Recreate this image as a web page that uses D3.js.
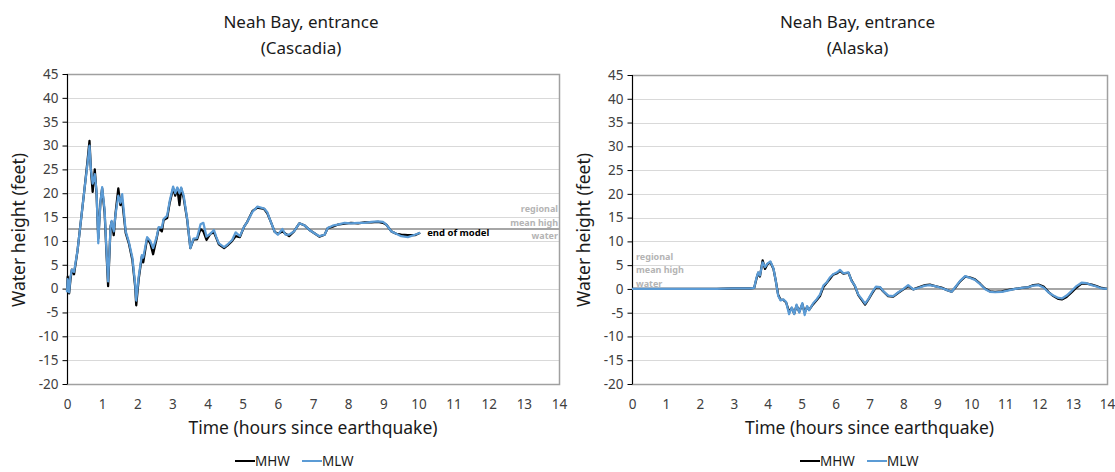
<!DOCTYPE html>
<html>
<head>
<meta charset="utf-8">
<script src="https://cdnjs.cloudflare.com/ajax/libs/d3/7.8.5/d3.min.js"></script>
<style>
  body { margin: 0; background: white; }
  text { font-family: "Noto Sans", "Open Sans", sans-serif; }
</style>
</head>
<body>
<script>
var width = 1115,
    height = 472;

// hour ticks and height ticks shared by both panels
var hourTicks = [0,1,2,3,4,5,6,7,8,9,10,11,12,13,14];
var heightTicks = [-20,-15,-10,-5,0,5,10,15,20,25,30,35,40,45];
var seriesNames = ["MHW", "MLW"];

// Cascadia run (hours since earthquake, feet)
var cascadiaTime = [0,0.02,0.06,0.1,0.14,0.2,0.3,0.4,0.5,0.58,
  0.64,0.68,0.73,0.79,0.84,0.89,0.95,1.0,1.07,1.12,
  1.17,1.24,1.27,1.33,1.38,1.46,1.52,1.57,1.67,1.76,
  1.86,1.94,1.97,2.04,2.13,2.17,2.28,2.37,2.45,2.55,
  2.61,2.7,2.75,2.85,2.92,3.02,3.08,3.14,3.2,3.25,
  3.32,3.42,3.51,3.6,3.7,3.8,3.88,3.97,4.08,4.18,
  4.25,4.32,4.47,4.56,4.7,4.8,4.92,5.04,5.13,5.28,
  5.42,5.61,5.7,5.8,5.91,6.0,6.13,6.22,6.32,6.46,
  6.61,6.75,6.9,7.04,7.18,7.33,7.42,7.56,7.7,7.9,
  8.08,8.28,8.47,8.66,8.85,8.99,9.09,9.23,9.37,9.51,
  9.7,9.9,10.05];
var cascadiaMHW = [-0.5,2.5,-1,2,4,3,8,14.5,21,26.5,
  31,25,20.3,25,20,10.5,18,21,16,8,
  0.5,13,14,11.2,15.7,21,17.5,18.5,11.7,9.5,
  6,0.4,-3.5,2,6.7,5.5,10.6,9.5,7.2,10.5,
  12.7,12,14.4,14.8,17.9,21,19.5,21,17.5,21,
  19,14.4,8.5,10.3,10.3,12.5,12,10.2,11.5,11.8,
  10.6,9.3,8.5,9,10,11,10.8,13,14,16.3,
  17,16.7,15.8,14,11.9,11.5,12,11.5,11,12,
  13.7,13.3,12.3,11.6,10.9,11.3,12.7,13,13.4,13.6,
  13.8,13.7,13.9,13.9,14,13.8,13.4,12,11.5,11.3,
  11.2,11.2,11.7];
var cascadiaMLW = [-0.8,2,-0.8,2.5,4,3.5,8,14.5,21,26,
  30,25,22,24,20.5,9.5,18,21.3,16.5,8.5,
  1.5,13,14.2,12,15.5,19.5,18,19.8,12,9.8,
  6.5,1,-2.5,2.5,7,6.5,10.8,10,8.5,10.8,
  12.9,12.8,14.6,15.3,18.3,21.4,20,21.2,20,21.2,
  19.5,14.6,8.5,10.5,10.6,13.5,13.8,10.9,11.5,12.3,
  10.8,9.5,8.7,9.2,10.2,11.8,11,13,14,16.1,
  17.2,16.8,16,14,11.9,11.3,12.5,11.3,11.3,12,
  13.7,13.3,12.3,11.6,11,11.3,12.7,13.2,13.4,13.8,
  13.7,13.8,13.8,14,14.1,14,13.4,12,11.5,11,
  10.8,11.3,11.7];

// Alaska run (hours since earthquake, feet)
var alaskaTime = [0,2.5,3.0,3.48,3.6,3.67,3.72,3.77,3.85,3.92,
  3.99,4.08,4.17,4.24,4.31,4.38,4.46,4.54,4.63,4.71,
  4.78,4.85,4.93,5.02,5.09,5.16,5.22,5.34,5.44,5.54,
  5.64,5.74,5.83,5.93,6.05,6.13,6.23,6.38,6.47,6.57,
  6.67,6.77,6.87,6.97,7.07,7.19,7.31,7.4,7.55,7.7,
  7.85,8.0,8.14,8.29,8.43,8.64,8.78,8.93,9.12,9.27,
  9.42,9.52,9.67,9.82,9.97,10.11,10.26,10.4,10.55,10.7,
  10.9,11.1,11.29,11.49,11.69,11.83,11.98,12.13,12.27,12.42,
  12.57,12.67,12.81,12.96,13.1,13.25,13.4,13.55,13.69,13.84,
  14.0];
var alaskaMHW = [0,0,0.1,0.1,0.2,2.2,3.4,2.6,6.0,4.2,
  5.2,5.6,4.2,1.6,-1.3,-2.3,-2.3,-2.8,-4.8,-4,
  -5.2,-3.5,-4.8,-3.2,-5,-3.8,-4.4,-3.2,-2.4,-1.5,
  0.4,1.3,2.1,3,3.3,3.8,3.2,3.4,1.8,0.6,
  -1.3,-2.3,-3.3,-2.2,-1,0.3,0.3,-0.5,-1.5,-1.6,
  -0.8,-0.1,0.6,-0.1,0.3,0.8,0.9,0.6,0.3,-0.2,
  -0.6,0.2,1.6,2.6,2.4,2,1.1,0.1,-0.5,-0.6,
  -0.5,-0.2,0,0.2,0.4,0.8,0.9,0.5,-0.6,-1.5,
  -2.1,-2.2,-1.7,-0.7,0.3,1.1,1.1,0.9,0.6,0.2,
  0];
var alaskaMLW = [0,0,0.1,0.1,0.2,2.4,3.5,2.8,5.6,4.6,
  5.3,5.8,4.3,1.6,-1.5,-2.4,-2.2,-2.7,-5.3,-3.9,
  -5.3,-3.3,-5,-3,-5.5,-3.6,-4.5,-3,-2.2,-1.2,
  0.7,1.4,2.4,3.1,3.5,4,3.3,3.5,1.7,0.7,
  -1.2,-2.1,-3.1,-2.1,-0.8,0.5,0.4,-0.4,-1.4,-1.5,
  -0.7,0,0.8,-0.1,0.2,0.7,0.8,0.6,0.2,-0.2,
  -0.6,0.3,1.7,2.7,2.3,1.9,1.0,0,-0.6,-0.7,
  -0.6,-0.3,0,0.2,0.4,0.7,0.8,0.3,-0.7,-1.4,
  -1.9,-2.0,-1.4,-0.4,0.6,1.3,1.2,0.8,0.5,0.1,
  0];

var cascadiaMeanHigh = 12.5,
    alaskaMeanHigh = 0;

var svg = d3.select("body").append("svg")
	.attr("width", width)
	.attr("height", height);

function drawPanel(p) {
	var x = d3.scaleLinear().domain([0, 14]).range([p.left, p.right]);
	var y = d3.scaleLinear().domain([-20, 45]).range([p.bottom, p.top]);
	var g = svg.append("g");

	// gridlines
	g.selectAll("line.grid").data(heightTicks).enter().append("line")
		.attr("x1", p.left).attr("x2", p.right)
		.attr("y1", function(d){return Math.round(y(d)) + 0.5})
		.attr("y2", function(d){return Math.round(y(d)) + 0.5})
		.style("stroke", "#d9d9d9");

	// plot frame
	g.append("rect")
		.attr("x", p.left + 0.5).attr("y", Math.round(p.top) + 0.5)
		.attr("width", p.right - p.left).attr("height", Math.round(p.bottom) - Math.round(p.top))
		.style("fill", "none").style("stroke", "#a0a0a0").style("stroke-width", 1.5);

	// mean high water line
	g.append("line")
		.attr("x1", p.left).attr("x2", p.right)
		.attr("y1", y(p.meanHigh)).attr("y2", y(p.meanHigh))
		.style("stroke", "#a6a6a6").style("stroke-width", 2);

	// y axis
	var yAxis = d3.axisLeft(y).tickValues(heightTicks).tickSize(5).tickPadding(4)
		.tickFormat(function(d){return String(d)});
	var ya = g.append("g").attr("transform", "translate(" + (p.left + 0.5) + ",0)").call(yAxis);
	ya.select(".domain").style("stroke", "#000").attr("d", "M0," + p.top + "V" + p.bottom);
	ya.selectAll(".tick line").style("stroke", "#000");
	ya.selectAll("text").style("font-size", "13.5px").style("fill", "#404040")
		.style("font-family", "'Noto Sans', sans-serif");

	// x axis (labels only)
	var xAxis = d3.axisBottom(x).tickValues(hourTicks).tickSize(0).tickPadding(15);
	var xa = g.append("g").attr("transform", "translate(0," + p.bottom + ")").call(xAxis);
	xa.select(".domain").remove();
	xa.selectAll("text").style("font-size", "13.5px").style("fill", "#404040")
		.style("font-family", "'Noto Sans', sans-serif");

	// series
	var line = d3.line()
		.x(function(d){return x(d[0])})
		.y(function(d){return y(d[1])});
	var colors = ["#000000", "#5b9bd5"];
	[p.mhw, p.mlw].forEach(function(vals, k) {
		g.append("path")
			.datum(p.time.map(function(t, i){return [t, vals[i]]}))
			.attr("d", line)
			.style("fill", "none")
			.style("stroke", colors[k])
			.style("stroke-width", 2.25)
			.style("stroke-linejoin", "round");
	});

	// titles
	var cx = (p.left + p.right) / 2 - 12;
	g.append("text").attr("x", cx).attr("y", 28).attr("text-anchor", "middle")
		.style("font-size", "17px").style("fill", "#1a1a1a").text("Neah Bay, entrance");
	g.append("text").attr("x", cx).attr("y", 54).attr("text-anchor", "middle")
		.style("font-size", "17px").style("fill", "#1a1a1a").text(p.sub);
	g.append("text").attr("x", (p.left + p.right) / 2).attr("y", 434).attr("text-anchor", "middle")
		.style("font-size", "17.5px").style("fill", "#1a1a1a").text("Time (hours since earthquake)");
	g.append("text").attr("transform", "translate(" + (p.left - 42) + "," + 230 + ") rotate(-90)")
		.attr("text-anchor", "middle")
		.style("font-size", "17.5px").style("fill", "#1a1a1a").text("Water height (feet)");

	// mean high water label
	var lab = ["regional", "mean high", "water"];
	g.selectAll("text.mhw").data(lab).enter().append("text")
		.attr("x", p.labelRight ? p.right - 1 : p.left + 4)
		.attr("y", function(d, i){return y(p.meanHigh) + p.labelOffset + i * 13.5})
		.attr("text-anchor", p.labelRight ? "end" : "start")
		.style("font-size", "9px").style("font-weight", "bold").style("fill", "#b4b4b4")
		.text(function(d){return d});

	// legend
	var lx = p.legendX;
	seriesNames.forEach(function(name, k) {
		var ox = lx + k * 67;
		g.append("line").attr("x1", ox).attr("x2", ox + 20).attr("y1", 461).attr("y2", 461)
			.style("stroke", colors[k]).style("stroke-width", 2);
		g.append("text").attr("x", ox + 20).attr("y", 466)
			.style("font-size", "13.5px").style("fill", "#1a1a1a").text(name);
	});
	return {x: x, y: y, g: g};
}

var left = drawPanel({left: 67, right: 559, top: 74, bottom: 384, time: cascadiaTime,
	mhw: cascadiaMHW, mlw: cascadiaMLW, meanHigh: cascadiaMeanHigh, sub: "(Cascadia)",
	labelRight: true, labelOffset: -17, legendX: 235});

left.g.append("text") //end of model marker
	.attr("x", left.x(10.05) + 7).attr("y", left.y(11.7) + 3)
	.style("font-size", "9.5px").style("font-weight", "bold").style("fill", "#000")
	.text("end of model");

drawPanel({left: 632, right: 1107, top: 75, bottom: 384, time: alaskaTime,
	mhw: alaskaMHW, mlw: alaskaMLW, meanHigh: alaskaMeanHigh, sub: "(Alaska)",
	labelRight: false, labelOffset: -29, legendX: 800});
</script>
</body>
</html>
